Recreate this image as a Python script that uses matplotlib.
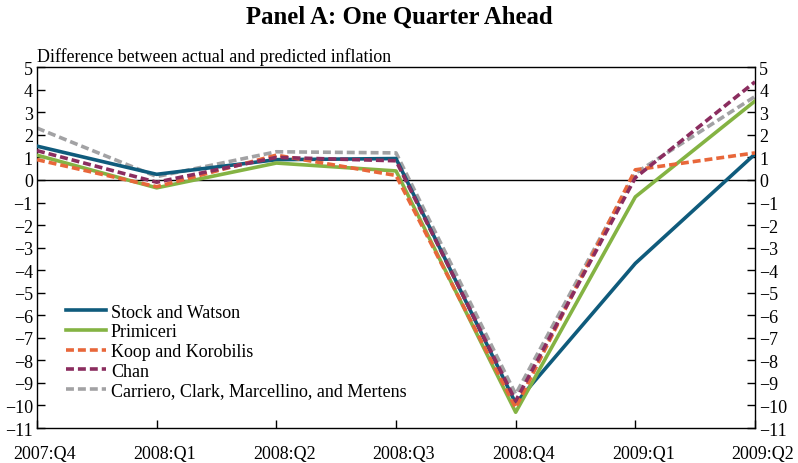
import matplotlib
matplotlib.use("Agg")
import matplotlib.pyplot as plt
import matplotlib.transforms as mtransforms

quarters = ["2007:Q4", "2008:Q1", "2008:Q2", "2008:Q3", "2008:Q4", "2009:Q1", "2009:Q2"]
stock_watson = [1.5, 0.25, 0.9, 0.95, -9.9, -3.7, 1.15]
primiceri = [1.1, -0.35, 0.75, 0.4, -10.3, -0.75, 3.5]
koop_korobilis = [0.9, -0.3, 1.1, 0.2, -10.1, 0.45, 1.2]
chan = [1.3, -0.1, 1.0, 0.85, -9.8, 0.1, 4.35]
carriero = [2.3, 0.15, 1.25, 1.2, -9.5, 0.3, 3.7]

plt.rcParams['font.family'] = ['Liberation Serif', 'DejaVu Serif']

fig = plt.figure(figsize=(7.98, 4.64), dpi=100)
ax = fig.add_axes([0.0464, 0.0754, 0.8997, 0.7776])
x = list(range(len(quarters)))

ax.axhline(0, color='black', lw=1.0, zorder=1)
lw = 2.6
dash = (0, (2.2, 1.1))
ax.plot(x, stock_watson, color='#0f5b7c', lw=lw, label='Stock and Watson', zorder=3)
ax.plot(x, primiceri, color='#84b343', lw=lw, label='Primiceri', zorder=3)
ax.plot(x, koop_korobilis, color='#e8673a', lw=lw, ls=dash, label='Koop and Korobilis', zorder=4)
ax.plot(x, chan, color='#8b2d5f', lw=lw, ls=dash, label='Chan', zorder=4)
ax.plot(x, carriero, color='#a2a2a4', lw=lw, ls=dash, label='Carriero, Clark, Marcellino, and Mertens', zorder=2)

ax.set_xlim(0, len(quarters) - 1)
ax.set_ylim(-11, 5)
ax.set_xticks(x)
ax.set_xticklabels(quarters)
yt = list(range(-11, 6))
ax.set_yticks(yt)
ax.set_yticklabels([str(v).replace('-', '\u2212') for v in yt])
ax.tick_params(axis='both', direction='in', length=6, width=1, labelsize=13)
ax.tick_params(axis='y', left=True, right=True, labelleft=True, labelright=True, pad=3)
ax.tick_params(axis='x', top=False, pad=12)
for s in ax.spines.values():
    s.set_linewidth(1.0)

offset = mtransforms.ScaledTranslation(8 / 100, 0, fig.dpi_scale_trans)
for lab in ax.get_xticklabels():
    lab.set_transform(lab.get_transform() + offset)

ax.text(0, 1.005, 'Difference between actual and predicted inflation', transform=ax.transAxes,
        ha='left', va='bottom', fontsize=12.9)
fig.text(0.5, 0.963, 'Panel A: One Quarter Ahead', ha='center', va='center', fontsize=17.8, fontweight='bold')

leg = ax.legend(loc='upper left', bbox_to_anchor=(0.03, 0.365), frameon=False, fontsize=13,
                handlelength=2.2, handletextpad=0.3, labelspacing=0.15, borderaxespad=0)

fig.savefig('out.png', dpi=100)
